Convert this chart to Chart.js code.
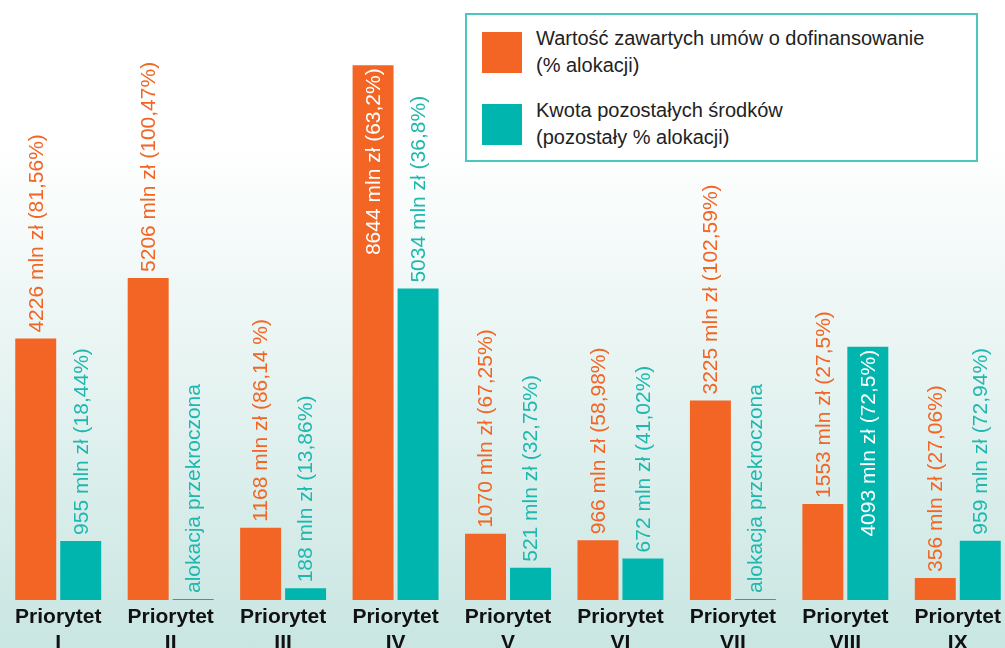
<!DOCTYPE html>
<html>
<head>
<meta charset="utf-8">
<script src="https://cdn.jsdelivr.net/npm/chart.js@4.4.0/dist/chart.umd.min.js"></script>
<style>
html, body { margin: 0; padding: 0; width: 1005px; height: 648px; overflow: hidden; }
body { background: linear-gradient(to bottom, #ffffff 0%, #ffffff 22%, #c9e6e2 100%); font-family: "Liberation Sans", Arial, sans-serif; position: relative; }
#chart { position: absolute; left: 0; top: 0; }
#legend { position: absolute; left: 465px; top: 13px; width: 509px; height: 145px; border: 2px solid #4ac8c0; background: #fff; }
.item { position: absolute; left: 15px; font-size: 20px; line-height: 27px; color: #222; }
.sw { position: absolute; left: 0; top: 0; width: 40px; height: 41px; }
.txt { position: absolute; left: 54px; top: -7px; white-space: nowrap; }
</style>
</head>
<body>
<canvas id="chart" width="1014" height="648"></canvas>
<div id="legend"></div>
<script>
var categories = [['Priorytet', 'I'], ['Priorytet', 'II'], ['Priorytet', 'III'], ['Priorytet', 'IV'], ['Priorytet', 'V'], ['Priorytet', 'VI'], ['Priorytet', 'VII'], ['Priorytet', 'VIII'], ['Priorytet', 'IX']];
var seriesNames = [['Wartość zawartych umów o dofinansowanie', '(% alokacji)'], ['Kwota pozostałych środków', '(pozostały % alokacji)']];
var contracted = [4226, 5206, 1168, 8644, 1070, 966, 3225, 1553, 356];
var contractedPct = ['81,56%', '100,47%', '86,14 %', '63,2%', '67,25%', '58,98%', '102,59%', '27,5%', '27,06%'];
var remaining = [955, 0, 188, 5034, 521, 672, 0, 4093, 959];
var remainingPct = ['18,44%', null, '13,86%', '36,8%', '32,75%', '41,02%', null, '72,5%', '72,94%'];
var overText = 'alokacja przekroczona';
var labelInside = [[false, false, false, true, false, false, false, false, false], [false, false, false, false, false, false, false, true, false]];

var orange = '#f26524';
var teal = '#00b5ad';
var colors = [orange, teal];

function makeText(v, p){
    if(p == null){
        return overText;
    }
    return v + ' mln zł (' + p + ')';
}
var labelTexts = [[], []];
for(var i = 0; i < categories.length; i++){
    labelTexts[0].push(makeText(contracted[i], contractedPct[i]));
    labelTexts[1].push(makeText(remaining[i], remainingPct[i]));
}

// legend box
var legendHtml = '';
for(var i = 0; i < seriesNames.length; i++){
    legendHtml += '<div class="item" style="top:' + (17 + i * 72) + 'px"><div class="sw" style="background:' + colors[i] + '"></div>'
        + '<div class="txt">' + seriesNames[i].join('<br>') + '</div></div>';
}
document.getElementById('legend').innerHTML = legendHtml;

var valueLabels = {
    id: 'valueLabels',
    afterDatasetsDraw: function(chart){
        var ctx = chart.ctx;
        chart.data.datasets.forEach(function(ds, di){
            var meta = chart.getDatasetMeta(di);
            meta.data.forEach(function(bar, i){
                var inside = labelInside[di][i];
                ctx.save();
                ctx.translate(bar.x + 1, inside ? bar.y + 3 : bar.y - 6);
                ctx.rotate(-Math.PI / 2);
                ctx.font = '21px "Liberation Sans", Arial, sans-serif';
                ctx.textBaseline = 'middle';
                ctx.textAlign = inside ? 'right' : 'left';
                ctx.fillStyle = inside ? '#ffffff' : (di == 0 ? orange : '#1fb8af');
                ctx.fillText(labelTexts[di][i], 0, 0);
                ctx.restore();
            });
        });
    }
};

var ctx = document.getElementById('chart').getContext('2d');
var myChart = new Chart(ctx, {
    type: 'bar',
    data: {
        labels: categories,
        datasets: [{
            label: seriesNames[0].join(' '),
            data: contracted,
            backgroundColor: orange
        }, {
            label: seriesNames[1].join(' '),
            data: remaining,
            backgroundColor: teal,
            minBarLength: 1
        }]
    },
    options: {
        responsive: false,
        animation: false,
        layout: { padding: { left: 2, right: 0, top: 0, bottom: 0 } },
        categoryPercentage: 0.8,
        barPercentage: 0.911,
        plugins: {
            legend: { display: false },
            tooltip: { enabled: false }
        },
        scales: {
            x: {
                grid: { display: false, drawTicks: false },
                border: { display: false },
                ticks: {
                    color: '#111',
                    padding: 4,
                    maxRotation: 0,
                    autoSkip: false,
                    font: { family: '"Liberation Sans", Arial, sans-serif', size: 21, weight: 'bold', lineHeight: 1.25 }
                },
                afterFit: function(scale){ scale.height = 48; }
            },
            y: {
                display: false,
                min: 0,
                max: 9700
            }
        }
    },
    plugins: [valueLabels]
});
</script>
</body>
</html>
